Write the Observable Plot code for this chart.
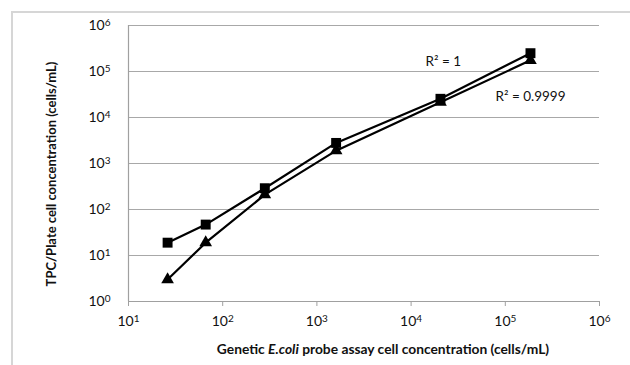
<!DOCTYPE html>
<html>
<head>
<meta charset="utf-8">
<script src="https://cdn.jsdelivr.net/npm/d3@7"></script>
<script src="https://cdn.jsdelivr.net/npm/@observablehq/plot@0.6"></script>
<style>
  html, body { margin: 0; padding: 0; background: #fff; overflow: hidden; }
  #wrap { position: relative; width: 630px; height: 365px; overflow: hidden; }
  #frame { position: absolute; left: 11px; top: 11px; width: 700px; height: 500px; border: 2px solid #d6d6d6; box-sizing: border-box; pointer-events: none; }
  svg { position: absolute; left: 0; top: 0; }
</style>
</head>
<body>
<div id="wrap"><div id="frame"></div></div>
<script>
// Data
const probeConc = [26, 66, 280, 1600, 20500, 185000];          // x: Genetic E.coli probe assay (cells/mL)
const tpcSquares = [19, 47, 290, 2800, 25500, 250000];          // series 1 (squares)
const tpcTriangles = [3, 19, 210, 1900, 21500, 175000];         // series 2 (triangles)
const r2Labels = ["R\u00B2 = 1", "R\u00B2 = 0.9999"];
const xTicks = [1e1, 1e2, 1e3, 1e4, 1e5, 1e6];
const yTicks = [1e0, 1e1, 1e2, 1e3, 1e4, 1e5, 1e6];
const xLabelParts = ["Genetic ", "E.coli", " probe assay cell concentration (cells/mL)"];
const yLabel = "TPC/Plate cell concentration (cells/mL)";

const sq = probeConc.map((x, i) => ({x, y: tpcSquares[i]}));
const tr = probeConc.map((x, i) => ({x, y: tpcTriangles[i]}));
const expFmt = d => "10" + Math.round(Math.log10(d));

const FONT = "Lato, 'Open Sans', sans-serif";

const chart = Plot.plot({
  width: 630,
  height: 365,
  marginLeft: 128,
  marginRight: 31,
  marginTop: 25,
  marginBottom: 64,
  x: {type: "log", domain: [1e1, 1e6]},
  y: {type: "log", domain: [1e0, 1e6]},
  style: {fontFamily: FONT, fontSize: "14px", color: "#111", background: "transparent", overflow: "visible"},
  marks: [
    Plot.gridY(yTicks, {stroke: "#a8a8a8", strokeOpacity: 1, strokeWidth: 1.2}),
    Plot.ruleX([1e1], {stroke: "#a0a0a0", strokeWidth: 1.2}),
    Plot.ruleY([1e0], {stroke: "#a0a0a0", strokeWidth: 1.2}),
    Plot.axisX(xTicks, {tickSize: 5, tickPadding: 10, stroke: "#a0a0a0", tickFormat: expFmt, label: null, fill: "#111", fontSize: 14}),
    Plot.axisY(yTicks, {tickSize: 0, tickPadding: 18, tickFormat: expFmt, label: null, fill: "#111", fontSize: 14}),
    Plot.line(sq, {x: "x", y: "y", stroke: "#000", strokeWidth: 2.2}),
    Plot.line(tr, {x: "x", y: "y", stroke: "#000", strokeWidth: 2.2}),
    Plot.dot(sq, {x: "x", y: "y", symbol: "square", r: 5.6, fill: "#000", stroke: "none"}),
    Plot.dot(tr, {x: "x", y: "y", symbol: "triangle", r: 4.7, fill: "#000", stroke: "none"}),
    Plot.text([sq[sq.length - 1]], {x: "x", y: "y", text: () => r2Labels[0], textAnchor: "start", dx: -105, dy: 8, fontSize: 13.5, fill: "#111"}),
    Plot.text([tr[tr.length - 1]], {x: "x", y: "y", text: () => r2Labels[1], textAnchor: "start", dx: -35, dy: 36, fontSize: 13.5, fill: "#111"})
  ]
});

document.getElementById("wrap").appendChild(chart);
const svg = d3.select(chart);

// superscript exponents on tick labels
svg.selectAll("g[aria-label='x-axis tick label'] text, g[aria-label='y-axis tick label'] text").each(function () {
  const t = d3.select(this);
  const s = t.text();
  const exp = s.slice(2);
  t.text("10");
  t.append("tspan").attr("dy", "-0.42em").attr("font-size", "10px").text(exp);
});

// axis titles
svg.append("text")
  .attr("transform", "translate(56,174) rotate(-90)")
  .attr("text-anchor", "middle")
  .attr("font-family", FONT)
  .attr("font-weight", "bold")
  .attr("font-size", 13)
  .attr("fill", "#111")
  .text(yLabel);

const xl = svg.append("text")
  .attr("x", 383).attr("y", 354)
  .attr("text-anchor", "middle")
  .attr("font-family", FONT)
  .attr("font-weight", "bold")
  .attr("font-size", 13.8)
  .attr("fill", "#111");
xl.append("tspan").text(xLabelParts[0]);
xl.append("tspan").attr("font-style", "italic").text(xLabelParts[1]);
xl.append("tspan").text(xLabelParts[2]);
</script>
</body>
</html>
